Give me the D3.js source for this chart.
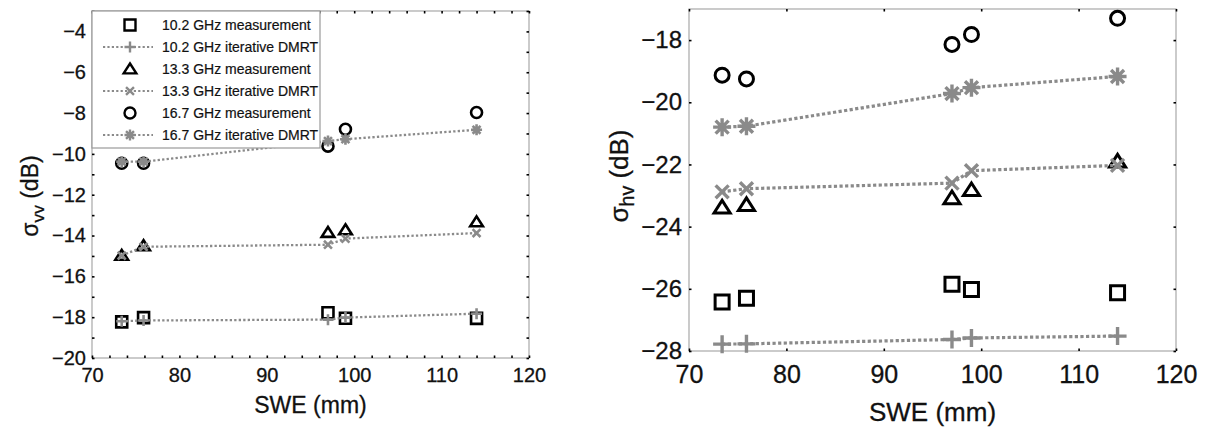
<!DOCTYPE html>
<head>
  <meta charset="utf-8">
  <script src="https://d3js.org/d3.v7.min.js"></script>
  <style>
    body { margin:0; background:#fff; }
    text { font-family: "Liberation Sans", Arial, sans-serif; fill:#111; }
  </style>
</head>
<body>
<script>
  // data
  var swe = [73.4, 75.9, 97, 99, 114]
  var xTicks = [70, 80, 90, 100, 110, 120]
  var vvTicks = [-20, -18, -16, -14, -12, -10, -8, -6, -4]
  var hvTicks = [-28, -26, -24, -22, -20, -18]
  var legendLabels = ["10.2 GHz measurement", "10.2 GHz iterative DMRT",
                      "13.3 GHz measurement", "13.3 GHz iterative DMRT",
                      "16.7 GHz measurement", "16.7 GHz iterative DMRT"]

  var vvMeas102 = [-18.23, -18.02, -17.78, -18.05, -18.06]
  var vvDmrt102 = [-18.2, -18.16, -18.12, -18.02, -17.83]
  var vvMeas133 = [-14.97, -14.5, -13.85, -13.72, -13.33]
  var vvDmrt133 = [-14.98, -14.55, -14.45, -14.15, -13.88]
  var vvMeas167 = [-10.46, -10.46, -9.62, -8.79, -7.97]
  var vvDmrt167 = [-10.38, -10.38, -9.37, -9.28, -8.82]

  var hvMeas102 = [-26.42, -26.3, -25.85, -26.02, -26.13]
  var hvDmrt102 = [-27.78, -27.77, -27.63, -27.58, -27.52]
  var hvMeas133 = [-23.38, -23.3, -23.08, -22.82, -21.9]
  var hvDmrt133 = [-22.88, -22.78, -22.6, -22.2, -22.03]
  var hvMeas167 = [-19.13, -19.25, -18.14, -17.82, -17.3]
  var hvDmrt167 = [-20.8, -20.77, -19.72, -19.53, -19.17]

  var gray = "#8a8a8a"

  var svg = d3.select("body").append("svg")
    .attr("width", 1211)
    .attr("height", 433)

  // marker shapes, centred on 0,0
  function marker(type, s) {
    var h = s / 2
    if (type == "square") return "M" + (-h) + "," + (-h) + "h" + s + "v" + s + "h" + (-s) + "Z"
    if (type == "circle") return d3.arc()({innerRadius:0, outerRadius:h, startAngle:0, endAngle:2*Math.PI})
    if (type == "triangle") return "M0," + (-h*1.0) + "L" + (h*1.15) + "," + (h*0.8) + "L" + (-h*1.15) + "," + (h*0.8) + "Z"
    if (type == "plus") return "M" + (-h) + ",0H" + h + "M0," + (-h) + "V" + h
    if (type == "x") { var d = h*0.72; return "M" + (-d) + "," + (-d) + "L" + d + "," + d + "M" + (-d) + "," + d + "L" + d + "," + (-d) }
    if (type == "star") { var d = h*0.72; return "M" + (-h) + ",0H" + h + "M0," + (-h) + "V" + h +
      "M" + (-d) + "," + (-d) + "L" + d + "," + d + "M" + (-d) + "," + d + "L" + d + "," + (-d) }
  }

  function panel(opt) {
    var g = svg.append("g")
    var x = d3.scaleLinear().domain([70, 120]).range(opt.xr)
    var y = d3.scaleLinear().domain(opt.yd).range(opt.yr)
    var x0 = opt.xr[0], x1 = opt.xr[1], y0 = opt.yr[1], y1 = opt.yr[0]

    // frame
    g.append("rect").attr("x", x0).attr("y", y0).attr("width", x1 - x0).attr("height", y1 - y0)
      .attr("fill", "none").attr("stroke", "#a8a8a8").attr("stroke-width", 1.2)

    // inward ticks on all four sides
    var tl = opt.tickLen
    g.append("g").attr("transform", "translate(0," + y1 + ")")
      .call(d3.axisBottom(x).tickValues(opt.xMinor).tickSize(-tl).tickFormat(""))
    g.append("g").attr("transform", "translate(0," + y0 + ")")
      .call(d3.axisTop(x).tickValues(opt.xMinor).tickSize(-tl).tickFormat(""))
    g.append("g").attr("transform", "translate(" + x0 + ",0)")
      .call(d3.axisLeft(y).tickValues(opt.yMinor).tickSize(-tl).tickFormat(""))
    g.append("g").attr("transform", "translate(" + x1 + ",0)")
      .call(d3.axisRight(y).tickValues(opt.yMinor).tickSize(-tl).tickFormat(""))
    g.selectAll(".domain").remove()
    g.selectAll(".tick line").attr("stroke", "#000").attr("stroke-width", 1.6)

    // tick labels
    var xa = g.append("g").attr("transform", "translate(0," + y1 + ")")
      .call(d3.axisBottom(x).tickValues(xTicks).tickSize(0).tickPadding(opt.xPad)
        .tickFormat(d3.format("d")))
    var ya = g.append("g").attr("transform", "translate(" + x0 + ",0)")
      .call(d3.axisLeft(y).tickValues(opt.yTicks).tickSize(0).tickPadding(opt.yPad)
        .tickFormat(function(d) { return "\u2212" + Math.abs(d) }))
    xa.select(".domain").remove()
    ya.select(".domain").remove()
    xa.selectAll("text").attr("font-size", opt.xFont).attr("font-family", "Liberation Sans, Arial")
      .attr("fill", "#111").attr("stroke", "#111").attr("stroke-width", 0.3)
    ya.selectAll("text").attr("font-size", opt.yFont).attr("font-family", "Liberation Sans, Arial")
      .attr("fill", "#111").attr("stroke", "#111").attr("stroke-width", 0.3)

    // axis titles
    g.append("text").attr("x", (x0 + x1) / 2).attr("y", opt.xTitleY)
      .attr("text-anchor", "middle").attr("font-size", opt.titleFont)
      .attr("stroke", "#111").attr("stroke-width", 0.3).text("SWE (mm)")
    var yt = g.append("text")
      .attr("transform", "translate(" + opt.yTitleX + "," + opt.yTitleY + ") rotate(-90)")
      .attr("text-anchor", "middle").attr("font-size", opt.titleFont)
      .attr("stroke", "#111").attr("stroke-width", 0.3)
    yt.append("tspan").text("\u03c3")
    yt.append("tspan").attr("font-size", opt.titleFont * 0.75).attr("dy", 6).text(opt.sub)
    yt.append("tspan").attr("dy", -6).text(" (dB)")

    var line = d3.line().x(function(d, i) { return x(swe[i]) }).y(function(d) { return y(d) })

    opt.series.forEach(function(s) {
      if (s.model) {
        g.append("path").attr("d", line(s.values)).attr("fill", "none")
          .attr("stroke", gray).attr("stroke-width", opt.lineW)
          .attr("stroke-dasharray", opt.dash)
      }
      g.selectAll(null).data(s.values).enter().append("path")
        .attr("transform", function(d, i) { return "translate(" + x(swe[i]) + "," + y(d) + ")" })
        .attr("d", marker(s.shape, s.model ? opt.gSize : opt.mSize))
        .attr("fill", "none")
        .attr("stroke", s.model ? gray : "#000")
        .attr("stroke-width", s.model ? opt.gW : opt.mW)
    })
    return {g: g, x: x, y: y}
  }

  var left = panel({
    xr: [92, 529], yd: [-20, -3], yr: [358, 11],
    xMinor: d3.range(70, 121, 2), yMinor: d3.range(-20, -2.9, 1),
    yTicks: vvTicks, tickLen: 2.5,
    xPad: 10, yPad: 6, xFont: 20, yFont: 20, titleFont: 23,
    xTitleY: 413, yTitleX: 38, yTitleY: 196, sub: "vv",
    lineW: 2.3, dash: "2.3,2.2", mSize: 11, mW: 2.6, gSize: 11, gW: 2.6,
    series: [
      {values: vvMeas102, shape: "square"},
      {values: vvDmrt102, shape: "plus", model: true},
      {values: vvMeas133, shape: "triangle"},
      {values: vvDmrt133, shape: "x", model: true},
      {values: vvMeas167, shape: "circle"},
      {values: vvDmrt167, shape: "star", model: true}
    ]
  })

  var right = panel({
    xr: [689, 1176], yd: [-28, -17], yr: [351, 9],
    xMinor: xTicks, yMinor: hvTicks,
    yTicks: hvTicks, tickLen: 2.5,
    xPad: 14, yPad: 7, xFont: 25, yFont: 24, titleFont: 26,
    xTitleY: 421, yTitleX: 628, yTitleY: 176, sub: "hv",
    lineW: 3.2, dash: "3.2,2.4", mSize: 14, mW: 3, gSize: 18, gW: 3.4,
    series: [
      {values: hvMeas102, shape: "square"},
      {values: hvDmrt102, shape: "plus", model: true},
      {values: hvMeas133, shape: "triangle"},
      {values: hvDmrt133, shape: "x", model: true},
      {values: hvMeas167, shape: "circle"},
      {values: hvDmrt167, shape: "star", model: true}
    ]
  })

  // legend of the left panel
  var shapes = ["square", "plus", "triangle", "x", "circle", "star"]
  var lg = left.g.append("g")
  lg.append("rect").attr("x", 92).attr("y", 11).attr("width", 228).attr("height", 137)
    .attr("fill", "#fff").attr("stroke", "#999").attr("stroke-width", 1.2)
  legendLabels.forEach(function(t, i) {
    var cy = 25 + i * 22
    var model = i % 2 == 1
    if (model) {
      lg.append("line").attr("x1", 103).attr("x2", 153).attr("y1", cy).attr("y2", cy)
        .attr("stroke", gray).attr("stroke-width", 2.2).attr("stroke-dasharray", "2.2,2.2")
    }
    lg.append("path").attr("transform", "translate(130," + cy + ")")
      .attr("d", marker(shapes[i], 11))
      .attr("fill", "none").attr("stroke", model ? gray : "#000").attr("stroke-width", 2.4)
    lg.append("text").attr("x", 162).attr("y", cy + 5).attr("font-size", 14)
      .attr("stroke", "#111").attr("stroke-width", 0.2).text(t)
  })
</script>
</body>
